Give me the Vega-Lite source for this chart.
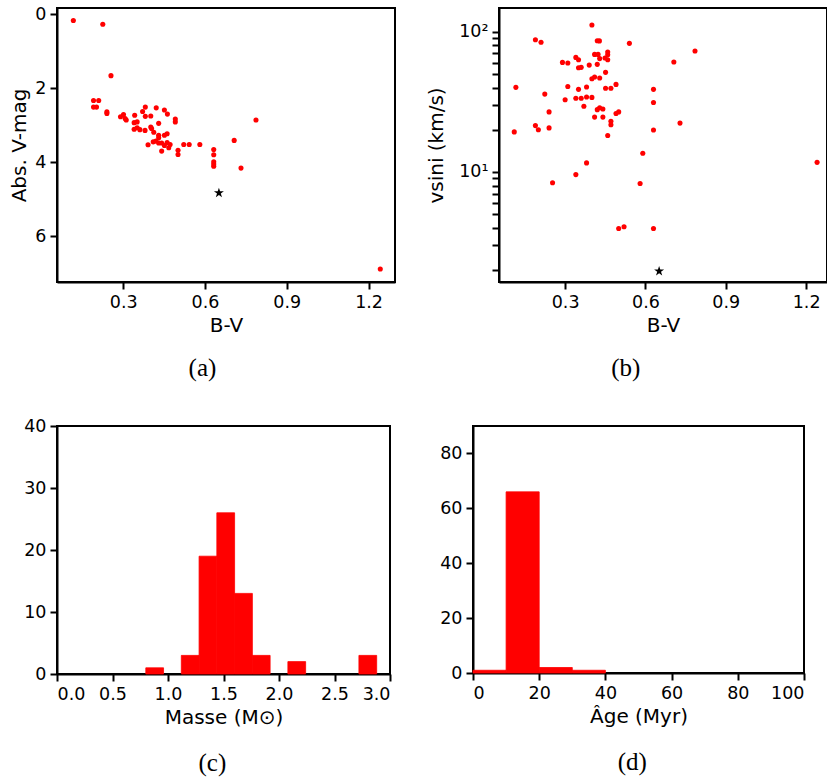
{
  "$schema": "https://vega.github.io/schema/vega-lite/v6.json",
  "padding": {"left": 8, "top": 4, "right": 0, "bottom": 0},
  "background": "white",
  "spacing": 34,
  "vconcat": [
    {
      "spacing": 29,
      "hconcat": [
        {
          "width": 338, "height": 274,
          "title": {"text": "(a)", "orient": "bottom"},
          "layer": [
            {
              "data": {"values": [
      {"bv":0.117,"mag":0.17},{"bv":0.225,"mag":0.27},{"bv":0.255,"mag":1.66},{"bv":0.191,"mag":2.33},{"bv":0.210,"mag":2.33},
      {"bv":0.191,"mag":2.51},{"bv":0.202,"mag":2.51},{"bv":0.240,"mag":2.64},{"bv":0.240,"mag":2.68},{"bv":0.290,"mag":2.77},
      {"bv":0.301,"mag":2.71},{"bv":0.311,"mag":2.86},{"bv":0.307,"mag":2.82},{"bv":0.342,"mag":2.73},{"bv":0.381,"mag":2.51},
      {"bv":0.371,"mag":2.63},{"bv":0.381,"mag":2.76},{"bv":0.401,"mag":2.75},{"bv":0.421,"mag":2.53},{"bv":0.451,"mag":2.59},
      {"bv":0.462,"mag":2.70},{"bv":0.491,"mag":2.83},{"bv":0.491,"mag":2.91},{"bv":0.340,"mag":2.93},{"bv":0.351,"mag":2.91},
      {"bv":0.340,"mag":3.11},{"bv":0.351,"mag":3.07},{"bv":0.361,"mag":3.12},{"bv":0.380,"mag":3.14},{"bv":0.401,"mag":3.05},
      {"bv":0.404,"mag":3.09},{"bv":0.412,"mag":3.19},{"bv":0.430,"mag":2.95},{"bv":0.430,"mag":3.27},{"bv":0.451,"mag":3.27},
      {"bv":0.461,"mag":3.23},{"bv":0.410,"mag":3.45},{"bv":0.420,"mag":3.43},{"bv":0.430,"mag":3.48},{"bv":0.441,"mag":3.48},
      {"bv":0.451,"mag":3.55},{"bv":0.461,"mag":3.47},{"bv":0.472,"mag":3.52},{"bv":0.467,"mag":3.61},{"bv":0.391,"mag":3.53},
      {"bv":0.441,"mag":3.70},{"bv":0.430,"mag":3.34},{"bv":0.501,"mag":3.68},{"bv":0.501,"mag":3.79},{"bv":0.522,"mag":3.52},
      {"bv":0.542,"mag":3.52},{"bv":0.581,"mag":3.52},{"bv":0.632,"mag":3.66},{"bv":0.632,"mag":3.80},{"bv":0.632,"mag":3.99},
      {"bv":0.632,"mag":4.05},{"bv":0.632,"mag":4.11},{"bv":0.707,"mag":3.41},{"bv":0.787,"mag":2.86},{"bv":0.732,"mag":4.16},
      {"bv":1.243,"mag":6.89}
              ]},
              "mark": {"type": "circle", "color": "#ff0000", "opacity": 1, "size": 26},
              "encoding": {
                "x": {"field": "bv", "type": "quantitative", "scale": {"domain": [0.057, 1.297], "nice": false, "zero": false},
                      "axis": {"title": "B-V", "values": [0.3, 0.6, 0.9, 1.2], "format": ".1f"}},
                "y": {"field": "mag", "type": "quantitative", "scale": {"domain": [-0.17, 7.24], "reverse": true, "nice": false, "zero": false},
                      "axis": {"title": "Abs. V-mag", "values": [0, 2, 4, 6]}}
              }
            },
            {
              "data": {"values": [{"bv":0.651,"mag":4.83}]},
              "mark": {"type": "point", "shape": "M0,-1L0.2245,-0.309L0.951,-0.309L0.363,0.118L0.588,0.809L0,0.382L-0.588,0.809L-0.363,0.118L-0.951,-0.309L-0.2245,-0.309Z", "filled": true, "color": "black", "opacity": 1, "size": 110},
              "encoding": {
                "x": {"field": "bv", "type": "quantitative"},
                "y": {"field": "mag", "type": "quantitative"}
              }
            }
          ]
        },
        {
          "width": 328, "height": 274,
          "title": {"text": "(b)", "orient": "bottom", "dx": -1},
          "layer": [
            {
              "data": {"values": [
      {"bv":0.400,"vsini":111.6},{"bv":0.189,"vsini":87.7},{"bv":0.210,"vsini":84.0},{"bv":0.420,"vsini":86.3},{"bv":0.428,"vsini":86.0},
      {"bv":0.540,"vsini":82.6},{"bv":0.785,"vsini":72.8},{"bv":0.410,"vsini":68.9},{"bv":0.423,"vsini":68.9},{"bv":0.459,"vsini":71.6},
      {"bv":0.459,"vsini":68.5},{"bv":0.429,"vsini":64.3},{"bv":0.449,"vsini":64.9},{"bv":0.459,"vsini":63.1},{"bv":0.340,"vsini":65.6},
      {"bv":0.350,"vsini":63.1},{"bv":0.290,"vsini":60.4},{"bv":0.310,"vsini":59.8},{"bv":0.706,"vsini":60.8},{"bv":0.390,"vsini":57.8},
      {"bv":0.420,"vsini":58.5},{"bv":0.350,"vsini":55.3},{"bv":0.360,"vsini":55.7},{"bv":0.451,"vsini":51.3},{"bv":0.400,"vsini":46.2},
      {"bv":0.410,"vsini":47.5},{"bv":0.429,"vsini":46.7},{"bv":0.116,"vsini":40.1},{"bv":0.310,"vsini":40.7},{"bv":0.380,"vsini":40.3},
      {"bv":0.350,"vsini":38.8},{"bv":0.451,"vsini":39.5},{"bv":0.471,"vsini":39.5},{"bv":0.490,"vsini":42.1},{"bv":0.630,"vsini":38.8},
      {"bv":0.224,"vsini":35.9},{"bv":0.300,"vsini":32.7},{"bv":0.340,"vsini":33.5},{"bv":0.360,"vsini":33.5},{"bv":0.380,"vsini":34.2},
      {"bv":0.400,"vsini":34.0},{"bv":0.630,"vsini":31.3},{"bv":0.370,"vsini":29.4},{"bv":0.420,"vsini":27.8},{"bv":0.429,"vsini":28.7},
      {"bv":0.441,"vsini":28.1},{"bv":0.240,"vsini":26.8},{"bv":0.490,"vsini":26.1},{"bv":0.500,"vsini":26.8},{"bv":0.410,"vsini":24.6},
      {"bv":0.441,"vsini":24.6},{"bv":0.471,"vsini":23.0},{"bv":0.471,"vsini":21.7},{"bv":0.729,"vsini":22.3},{"bv":0.189,"vsini":21.4},
      {"bv":0.200,"vsini":20.0},{"bv":0.240,"vsini":20.6},{"bv":0.630,"vsini":19.9},{"bv":0.110,"vsini":19.3},{"bv":0.459,"vsini":18.2},
      {"bv":0.590,"vsini":13.6},{"bv":0.380,"vsini":11.6},{"bv":1.241,"vsini":11.7},{"bv":0.340,"vsini":9.57},{"bv":0.253,"vsini":8.36},
      {"bv":0.580,"vsini":8.27},{"bv":0.500,"vsini":3.95},{"bv":0.520,"vsini":4.06},{"bv":0.630,"vsini":3.95}
              ]},
              "mark": {"type": "circle", "color": "#ff0000", "opacity": 1, "size": 26},
              "encoding": {
                "x": {"field": "bv", "type": "quantitative", "scale": {"domain": [0.053, 1.278], "nice": false, "zero": false},
                      "axis": {"title": "B-V", "values": [0.3, 0.6, 0.9, 1.2], "format": ".1f"}},
                "y": {"field": "vsini", "type": "quantitative", "scale": {"type": "log", "domain": [1.64, 147.6], "nice": false},
                      "axis": {"title": "vsini (km/s)", "titlePadding": 12, "values": [2,3,4,5,6,7,8,9,10,20,30,40,50,60,70,80,90,100],
                               "labelExpr": "datum.value == 10 ? '10¹' : (datum.value == 100 ? '10²' : '')"}}
              }
            },
            {
              "data": {"values": [{"bv":0.651,"vsini":1.96}]},
              "mark": {"type": "point", "shape": "M0,-1L0.2245,-0.309L0.951,-0.309L0.363,0.118L0.588,0.809L0,0.382L-0.588,0.809L-0.363,0.118L-0.951,-0.309L-0.2245,-0.309Z", "filled": true, "color": "black", "opacity": 1, "size": 110},
              "encoding": {
                "x": {"field": "bv", "type": "quantitative"},
                "y": {"field": "vsini", "type": "quantitative"}
              }
            }
          ]
        }
      ]
    },
    {
      "spacing": 46,
      "hconcat": [
        {
          "width": 333, "height": 248,
          "title": {"text": "(c)", "orient": "bottom", "dx": 5, "offset": 23},
          "data": {"values": [
      {"m0":0.80,"m1":0.96,"n":1},{"m0":1.12,"m1":1.28,"n":3},{"m0":1.28,"m1":1.44,"n":19},{"m0":1.44,"m1":1.60,"n":26},
      {"m0":1.60,"m1":1.76,"n":13},{"m0":1.76,"m1":1.92,"n":3},{"m0":2.08,"m1":2.24,"n":2},{"m0":2.72,"m1":2.88,"n":3}
          ]},
          "mark": {"type": "rect", "color": "#ff0000", "stroke": "#ff0000", "strokeWidth": 0.8, "opacity": 1},
          "encoding": {
            "x": {"field": "m0", "type": "quantitative", "scale": {"domain": [0, 3], "nice": false},
                  "axis": {"title": "Masse (M⊙)", "values": [0, 0.5, 1, 1.5, 2, 2.5, 3], "format": ".1f"}},
            "x2": {"field": "m1"},
            "y": {"field": "n", "type": "quantitative", "scale": {"domain": [0, 40], "nice": false},
                  "axis": {"title": null, "values": [0, 10, 20, 30, 40]}},
            "y2": {"datum": 0}
          }
        },
        {
          "width": 331, "height": 247,
          "title": {"text": "(d)", "orient": "bottom", "dx": 10, "offset": 23},
          "data": {"values": [
      {"a0":0,"a1":10,"n":1},{"a0":10,"a1":20,"n":66},{"a0":20,"a1":30,"n":2},{"a0":30,"a1":40,"n":1}
          ]},
          "mark": {"type": "rect", "color": "#ff0000", "stroke": "#ff0000", "strokeWidth": 0.8, "opacity": 1},
          "encoding": {
            "x": {"field": "a0", "type": "quantitative", "scale": {"domain": [0, 100], "nice": false},
                  "axis": {"title": "Âge (Myr)", "values": [0, 20, 40, 60, 80, 100]}},
            "x2": {"field": "a1"},
            "y": {"field": "n", "type": "quantitative", "scale": {"domain": [0, 90], "nice": false},
                  "axis": {"title": null, "values": [0, 20, 40, 60, 80]}},
            "y2": {"datum": 0}
          }
        }
      ]
    }
  ],
  "config": {
    "view": {"stroke": "black", "strokeWidth": 2},
    "axis": {
      "grid": false, "domain": true, "domainColor": "black", "domainWidth": 2,
      "ticks": true, "tickColor": "black", "tickWidth": 2, "tickSize": 7,
      "labelFont": "DejaVu Sans", "labelFontSize": 17.5, "labelColor": "black", "labelPadding": 4,
      "titleFont": "DejaVu Sans", "titleFontSize": 20, "titleFontWeight": "normal", "titleColor": "black", "titlePadding": 5
    },
    "title": {"font": "Liberation Serif", "fontSize": 25, "fontWeight": "normal", "color": "black", "anchor": "middle", "frame": "bounds", "offset": 20}
  }
}
